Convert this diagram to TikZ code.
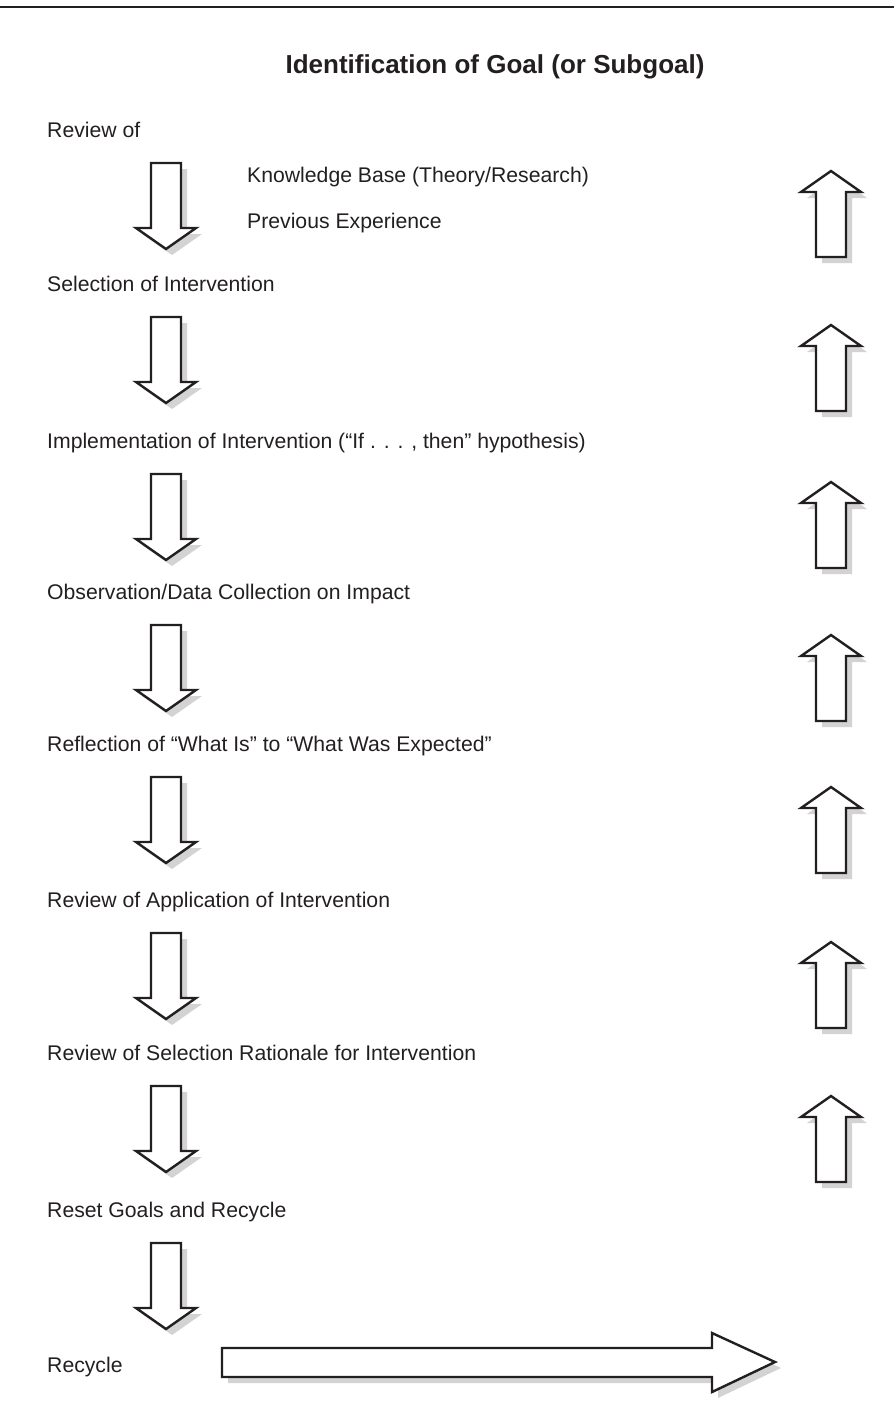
\documentclass[tikz,border=0pt]{standalone}
\usepackage{fontspec}
\setmainfont{Liberation Sans}
\definecolor{txt}{HTML}{231F20}
\definecolor{shadowgray}{HTML}{D3D3D3}
\begin{document}
\begin{tikzpicture}[x=1pt,y=-1pt,
  lbl/.style={anchor=base west, inner sep=0pt, font=\fontsize{21.2}{24}\selectfont, text=txt},
  ttl/.style={anchor=base, inner sep=0pt, font=\bfseries\fontsize{26}{30}\selectfont, text=txt},
  arrowline/.style={draw=txt, line width=2.4pt, fill=white, line join=miter},
  shadowfill/.style={fill=shadowgray, draw=none},
  downarr/.pic={
    \foreach \s/\st in {6/shadowfill,0/arrowline}{
      \path[\st, shift={(\s,\s)}] (-15,0) -- (-15,65) -- (-30,65) -- (0,86) -- (30,65) -- (15,65) -- (15,0) -- cycle;
    }
  },
  uparr/.pic={
    \foreach \s/\st in {6/shadowfill,0/arrowline}{
      \path[\st, shift={(\s,\s)}] (0,0) -- (-30,21) -- (-15,21) -- (-15,86) -- (15,86) -- (15,21) -- (30,21) -- cycle;
    }
  }
]
\useasboundingbox (0,0) rectangle (894,1413);
\draw[txt, line width=2pt] (0,7) -- (894,7);

\node[ttl] (title) at (495,74) {Identification of Goal (or Subgoal)};

\node[lbl] (t1) at (47,137) {Review of};
\node[lbl] (kb) at (247,182) {Knowledge Base (Theory/Research)};
\node[lbl] (pe) at (247,228) {Previous Experience};
\node[lbl] (t2) at (47,291) {Selection of Intervention};
\node[lbl] (t3) at (47,448) {Implementation of Intervention (“If . . . , then” hypothesis)};
\node[lbl] (t4) at (47,599) {Observation/Data Collection on Impact};
\node[lbl] (t5) at (47,751) {Reflection of “What Is” to “What Was Expected”};
\node[lbl] (t6) at (47,907) {Review of Application of Intervention};
\node[lbl] (t7) at (47,1060) {Review of Selection Rationale for Intervention};
\node[lbl] (t8) at (47,1217) {Reset Goals and Recycle};
\node[lbl] (t9) at (47,1372) {Recycle};

% down arrows (origin = top centre)
\pic (d1) at (166,163) {downarr};
\pic (d2) at (166,317) {downarr};
\pic (d3) at (166,474) {downarr};
\pic (d4) at (166,625) {downarr};
\pic (d5) at (166,777) {downarr};
\pic (d6) at (166,933) {downarr};
\pic (d7) at (166,1086) {downarr};
\pic (d8) at (166,1243) {downarr};

% up arrows (origin = tip)
\pic (u1) at (831,171) {uparr};
\pic (u2) at (831,325) {uparr};
\pic (u3) at (831,482) {uparr};
\pic (u4) at (831,635) {uparr};
\pic (u5) at (831,787) {uparr};
\pic (u6) at (831,942) {uparr};
\pic (u7) at (831,1096) {uparr};

% recycle arrow
\foreach \s/\st in {6/shadowfill,0/arrowline}{
  \path[\st, shift={(\s,\s)}] (222,1348) -- (712,1348) -- (712,1333) -- (775,1362) -- (712,1392) -- (712,1377) -- (222,1377) -- cycle;
}
\end{tikzpicture}
\end{document}
